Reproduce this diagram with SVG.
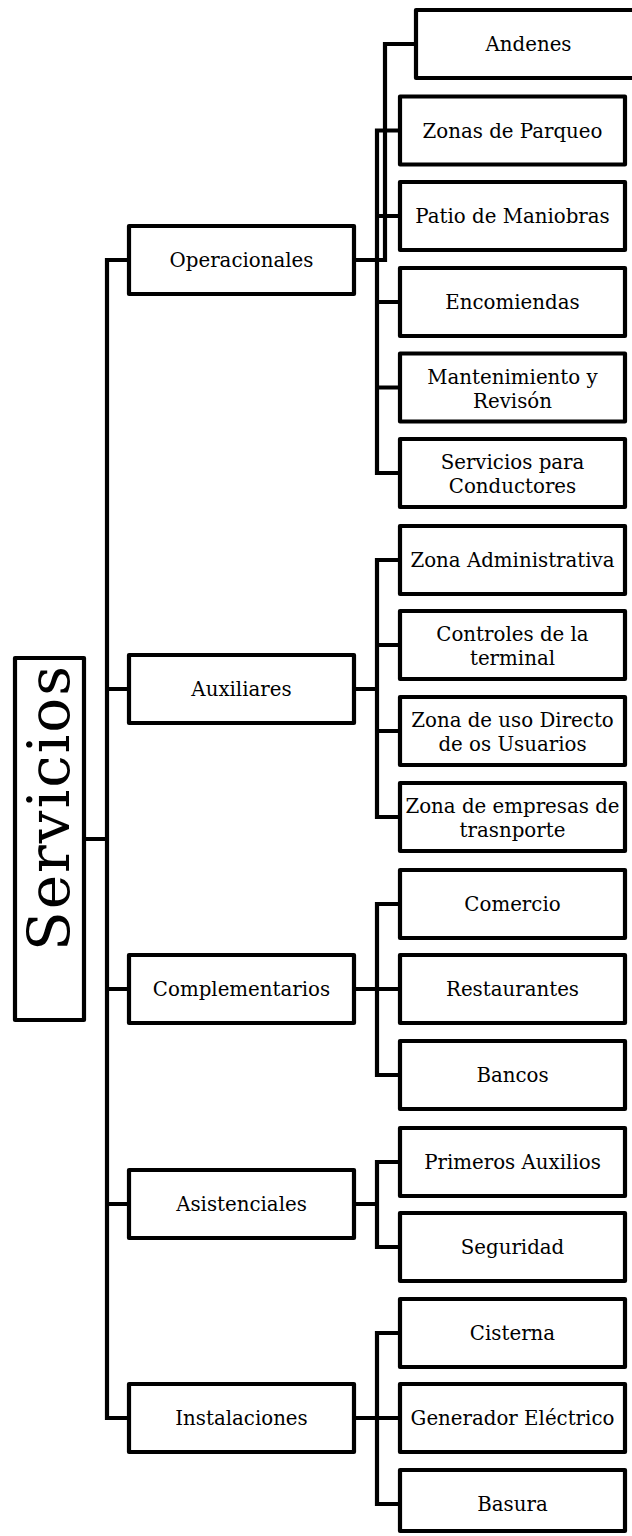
<svg xmlns="http://www.w3.org/2000/svg" width="632" height="1536" viewBox="0 0 632 1536">
<style>
.box{fill:#fff;stroke:#000;stroke-width:4.2;stroke-linejoin:round}
.ln{fill:none;stroke:#000;stroke-width:4.2;stroke-linejoin:miter;stroke-linecap:square}
.t{font-family:"DejaVu Serif","Liberation Serif",serif;font-size:19.8px;fill:#000;text-anchor:middle}
.root{font-family:"DejaVu Serif","Liberation Serif",serif;font-size:58px;fill:#000;text-anchor:middle}
</style>
<rect width="632" height="1536" fill="#fff"/>
<g id="connectors">
<path class="ln" d="M84,839H107M107,260V1418M107,260H129M107,689H129M107,989H129M107,1204H129M107,1418H129"/>
<path class="ln" d="M354,260H385M385,260V44H416M377,130.5V473M377,130.5H400M377,216H400M377,302H400M377,387.5H400M377,473H400"/>
<path class="ln" d="M354,689H377M377,560V817M377,560H400M377,645H400M377,731H400M377,817H400"/>
<path class="ln" d="M354,989H377M377,904V1075M377,904H400M377,989H400M377,1075H400"/>
<path class="ln" d="M354,1204H377M377,1162V1247M377,1162H400M377,1247H400"/>
<path class="ln" d="M354,1418H377M377,1333V1504M377,1333H400M377,1418H400M377,1504H400"/>
</g>
<g id="servicios"><rect class="box" x="15" y="658" width="69" height="362"/><text class="root" transform="translate(69,808.5) rotate(-90)" textLength="285" lengthAdjust="spacing">Servicios</text></g>
<g id="operacionales"><rect class="box" x="129" y="226" width="225" height="68"/><text class="t" x="241.5" y="267">Operacionales</text></g>
<g id="auxiliares"><rect class="box" x="129" y="655" width="225" height="68"/><text class="t" x="241.5" y="696">Auxiliares</text></g>
<g id="complementarios"><rect class="box" x="129" y="955" width="225" height="68"/><text class="t" x="241.5" y="996">Complementarios</text></g>
<g id="asistenciales"><rect class="box" x="129" y="1170" width="225" height="68"/><text class="t" x="241.5" y="1211">Asistenciales</text></g>
<g id="instalaciones"><rect class="box" x="129" y="1384" width="225" height="68"/><text class="t" x="241.5" y="1425">Instalaciones</text></g>
<g id="andenes"><rect class="box" x="416" y="10" width="225" height="68"/><text class="t" x="528.5" y="51">Andenes</text></g>
<g id="zonas-parqueo"><rect class="box" x="400" y="96.5" width="225" height="68"/><text class="t" x="512.5" y="137.5">Zonas de Parqueo</text></g>
<g id="patio-maniobras"><rect class="box" x="400" y="182" width="225" height="68"/><text class="t" x="512.5" y="223">Patio de Maniobras</text></g>
<g id="encomiendas"><rect class="box" x="400" y="268" width="225" height="68"/><text class="t" x="512.5" y="309">Encomiendas</text></g>
<g id="mantenimiento"><rect class="box" x="400" y="353.5" width="225" height="68"/><text class="t" x="512.5" y="383.5">Mantenimiento y</text><text class="t" x="512.5" y="407.5">Revisón</text></g>
<g id="servicios-conductores"><rect class="box" x="400" y="439" width="225" height="68"/><text class="t" x="512.5" y="469">Servicios para</text><text class="t" x="512.5" y="493">Conductores</text></g>
<g id="zona-administrativa"><rect class="box" x="400" y="526" width="225" height="68"/><text class="t" x="512.5" y="567">Zona Administrativa</text></g>
<g id="controles"><rect class="box" x="400" y="611" width="225" height="68"/><text class="t" x="512.5" y="641">Controles de la</text><text class="t" x="512.5" y="665">terminal</text></g>
<g id="uso-directo"><rect class="box" x="400" y="697" width="225" height="68"/><text class="t" x="512.5" y="727">Zona de uso Directo</text><text class="t" x="512.5" y="751">de os Usuarios</text></g>
<g id="empresas"><rect class="box" x="400" y="783" width="225" height="68"/><text class="t" x="512.5" y="813">Zona de empresas de</text><text class="t" x="512.5" y="837">trasnporte</text></g>
<g id="comercio"><rect class="box" x="400" y="870" width="225" height="68"/><text class="t" x="512.5" y="911">Comercio</text></g>
<g id="restaurantes"><rect class="box" x="400" y="955" width="225" height="68"/><text class="t" x="512.5" y="996">Restaurantes</text></g>
<g id="bancos"><rect class="box" x="400" y="1041" width="225" height="68"/><text class="t" x="512.5" y="1082">Bancos</text></g>
<g id="primeros-auxilios"><rect class="box" x="400" y="1128" width="225" height="68"/><text class="t" x="512.5" y="1169">Primeros Auxilios</text></g>
<g id="seguridad"><rect class="box" x="400" y="1213" width="225" height="68"/><text class="t" x="512.5" y="1254">Seguridad</text></g>
<g id="cisterna"><rect class="box" x="400" y="1299" width="225" height="68"/><text class="t" x="512.5" y="1340">Cisterna</text></g>
<g id="generador"><rect class="box" x="400" y="1384" width="225" height="68"/><text class="t" x="512.5" y="1425">Generador Eléctrico</text></g>
<g id="basura"><rect class="box" x="400" y="1470" width="225" height="61"/><text class="t" x="512.5" y="1511">Basura</text></g>
</svg>
